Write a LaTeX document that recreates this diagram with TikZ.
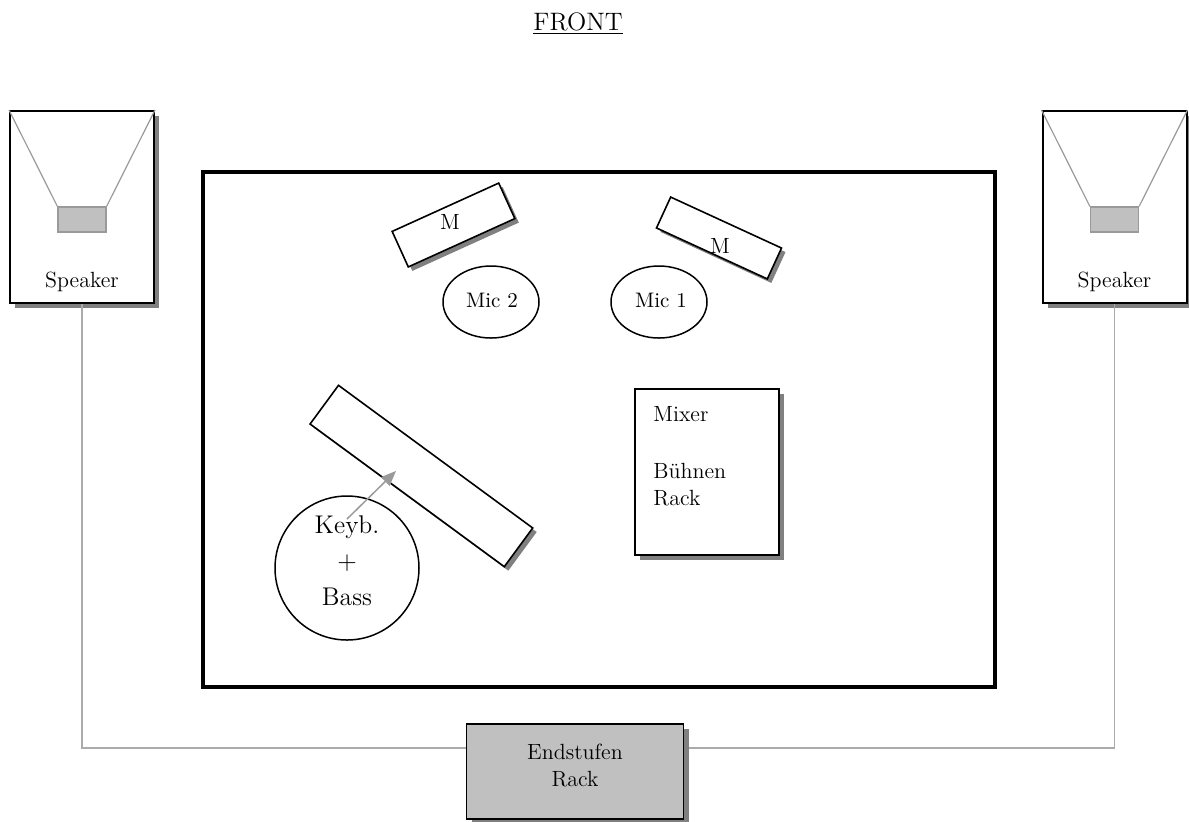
\documentclass[tikz,border=0pt]{standalone}
\usetikzlibrary{shadows,arrows.meta,calc,shapes.geometric}
\definecolor{shd}{HTML}{808080}
\definecolor{conefill}{HTML}{C0C0C0}
\definecolor{conedraw}{HTML}{9A9A9A}
\definecolor{cablecol}{HTML}{ABABAB}
\tikzset{
  lbl/.style={font=\fontsize{11}{13}\selectfont, inner sep=0pt},
  sh/.style={drop shadow={opacity=1, fill=shd, shadow xshift=2.6pt, shadow yshift=-2.6pt}},
  shs/.style={drop shadow={opacity=1, fill=shd, shadow xshift=2pt, shadow yshift=-2pt}},
  box/.style={draw=black, line width=0.8pt, fill=white, inner sep=0pt, rectangle},
  speakerbox/.style={box, line width=1pt, minimum width=72pt, minimum height=96pt, sh},
  cone/.style={draw=conedraw, fill=conefill, line width=0.6pt, minimum width=24pt, minimum height=12.5pt, inner sep=0pt},
  conelines/.style={draw=conedraw, line width=0.6pt},
  cable/.style={draw=cablecol, line width=0.65pt},
  mic/.style={draw=black, line width=0.75pt, ellipse, minimum width=48pt, minimum height=36pt, inner sep=0pt},
}
\begin{document}
\begin{tikzpicture}[x=0.5pt,y=-0.5pt]
\useasboundingbox (0,0) rectangle (1189,821);
% title
\node[anchor=base, inner sep=0pt, font=\fontsize{12.6}{14}\selectfont] (front) at (578,30) {\underline{FRONT}};
% speakers
\node[speakerbox] (spkL) at (82,207) {};
\node[speakerbox] (spkR) at (1114.5,207) {};
\coordinate (ampL) at (467,748);
\coordinate (ampR) at (683,748);
\draw[cable] (spkL.south) |- (ampL);
\draw[cable] (spkR.south) |- (ampR);
% amplifier rack
\node[box, fill=conefill, minimum width=108.5pt, minimum height=47.5pt, sh] (amp) at (575,771.5) {};
\node[lbl, align=center, font=\fontsize{11}{13.5}\selectfont] (amptext) at (575,765) {Endstufen\\Rack};
\node[cone] (coneL) at (82,219.5) {};
\node[cone] (coneR) at (1114.5,219.5) {};
\draw[conelines] (spkL.north west) -- (coneL.north west);
\draw[conelines] (spkL.north east) -- (coneL.north east);
\draw[conelines] (spkR.north west) -- (coneR.north west);
\draw[conelines] (spkR.north east) -- (coneR.north east);
\node[lbl] (spkLt) at (82,282) {Speaker};
\node[lbl] (spkRt) at (1114.5,282) {Speaker};
% stage
\node[draw=black, line width=2pt, minimum width=396pt, minimum height=257.5pt, inner sep=0pt] (stage) at (599,429.5) {};
% mic stands
\node[box, shs, minimum width=58.5pt, minimum height=19.5pt, rotate=24.4] (m2) at (453.5,225) {};
\node[lbl] (m2t) at (450,222) {M};
\node[box, shs, minimum width=61pt, minimum height=17pt, rotate=-24.7] (m1) at (719,238) {};
\node[lbl] (m1t) at (720,246) {M};
\node[mic] (mic2) at (491,302) {};
\node[lbl, font=\fontsize{10.5}{12}\selectfont] (mic2t) at (492,300) {Mic 2};
\node[mic] (mic1) at (659,302) {};
\node[lbl, font=\fontsize{10.5}{12}\selectfont] (mic1t) at (661,300) {Mic 1};
% keyboard
\node[box, shs, minimum width=120.5pt, minimum height=24pt, rotate=-36.3] (keys) at (421.4,476) {};
\node[draw=black, line width=0.75pt, circle, minimum size=72pt, inner sep=0pt] (kbc) at (347,568) {};
\node[lbl, align=center, font=\fontsize{12.8}{18}\selectfont] (kbt) at (347,561) {Keyb.\\+\\Bass};
\coordinate (arrS) at (347,519);
\coordinate (arrE) at (396,471);
\draw[draw=conedraw, line width=0.75pt, -{Triangle[length=7.5pt,width=6pt]}, fill=conedraw] (arrS) -- (arrE);
% mixer
\node[box, sh, minimum width=72pt, minimum height=83pt] (mixer) at (707,472) {};
\node[lbl, anchor=base west] (mixt) at (653,421) {Mixer};
\node[lbl, anchor=base west] (buehnt) at (653,478) {Bühnen};
\node[lbl, anchor=base west] (rackt) at (653,505) {Rack};
\end{tikzpicture}
\end{document}
